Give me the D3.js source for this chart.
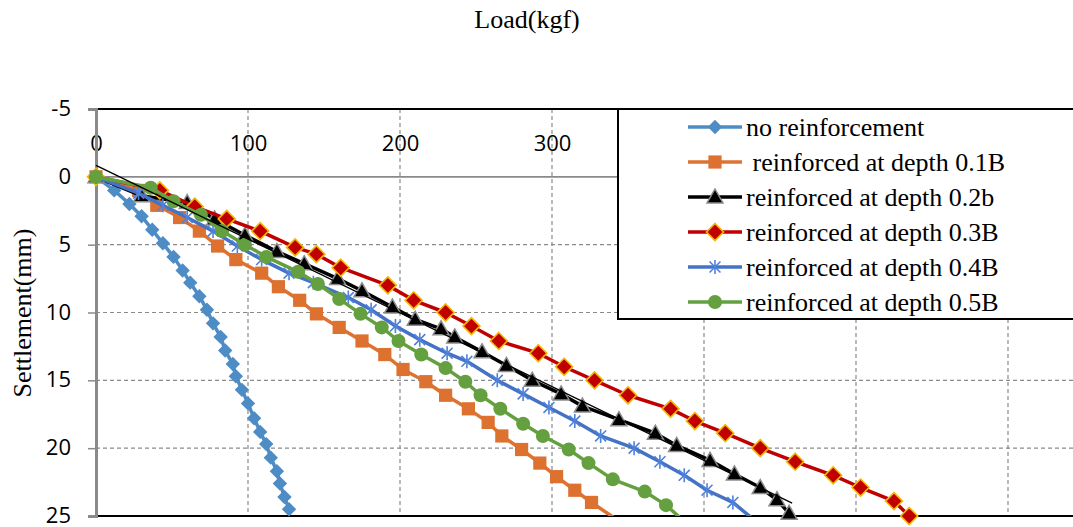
<!DOCTYPE html>
<html>
<head>
<meta charset="utf-8">
<script src="https://cdn.jsdelivr.net/npm/d3@7"></script>
<style>
  html, body { margin: 0; padding: 0; background: #fff; }
  svg { display: block; }
</style>
</head>
<body>
<svg id="chart" width="1073" height="527"></svg>
<script>
// ---------------- DATA ----------------
const seriesNames = [
  "no reinforcement",
  " reinforced at depth 0.1B",
  "reinforced at depth 0.2b",
  "reinforced at depth 0.3B",
  "reinforced at depth 0.4B",
  "reinforced at depth 0.5B"
];

const noReinfLoad   = [0, 12, 22, 30, 37, 44, 51, 57, 62, 68, 73, 77, 82, 85, 90, 92, 96, 100, 104, 108, 112, 115, 119, 121, 124, 127];
const noReinfSettle = [0, 1.0, 2.0, 2.9, 3.9, 4.9, 5.9, 6.9, 7.8, 8.8, 9.8, 10.8, 11.8, 12.8, 13.8, 14.7, 15.7, 16.7, 17.8, 18.8, 19.7, 20.7, 21.7, 22.6, 23.6, 24.5];

const d01Load   = [0, 28, 40, 55, 68, 80, 92, 109, 120, 134, 145, 160, 175, 190, 202, 217, 230, 245, 258, 267, 280, 292, 303, 315, 326, 343];
const d01Settle = [0, 1.0, 2.1, 3.0, 4.0, 5.1, 6.1, 7.1, 8.1, 9.1, 10.1, 11.1, 12.1, 13.1, 14.2, 15.1, 16.1, 17.1, 18.1, 19.1, 20.1, 21.1, 22.1, 23.1, 24.0, 25.3];

const d02Load   = [0, 30, 60, 78, 98, 119, 137, 159, 175, 195, 210, 227, 236, 254, 270, 287, 306, 320, 344, 368, 382, 404, 420, 437, 448, 456];
const d02Settle = [0, 1.4, 1.9, 3.1, 4.3, 5.5, 6.4, 7.5, 8.4, 9.6, 10.5, 11.2, 11.8, 12.9, 13.9, 15.0, 16.0, 16.9, 17.9, 18.9, 19.8, 20.9, 21.9, 22.9, 23.8, 24.8];

const d03Load   = [0, 42, 65, 86, 108, 131, 145, 161, 192, 209, 230, 247, 265, 291, 308, 328, 350, 378, 394, 414, 437, 460, 485, 503, 525, 535];
const d03Settle = [0, 1.0, 2.2, 3.1, 4.0, 5.2, 5.7, 6.7, 8.0, 9.1, 10.0, 11.0, 12.1, 13.0, 14.0, 15.0, 16.1, 17.1, 18.0, 18.9, 20.0, 21.0, 22.0, 22.9, 23.9, 25.0];

const d04Load   = [0, 28, 44, 60, 77, 93, 109, 127, 143, 166, 181, 197, 213, 231, 244, 264, 281, 298, 315, 332, 354, 371, 387, 402, 419, 432];
const d04Settle = [0, 1.2, 2.1, 3.0, 4.0, 5.1, 6.1, 7.1, 7.8, 8.9, 9.8, 11.0, 12.0, 13.0, 13.6, 15.0, 16.0, 17.0, 18.0, 19.1, 20.0, 21.0, 22.0, 23.1, 24.0, 25.2];

const d05Load   = [0, 36, 51, 69, 83, 98, 112, 133, 146, 160, 174, 188, 199, 214, 230, 243, 253, 266, 281, 294, 311, 324, 340, 361, 375, 386];
const d05Settle = [0, 0.8, 1.8, 2.8, 4.0, 5.0, 5.9, 7.0, 7.9, 9.0, 10.1, 11.1, 12.1, 13.1, 14.1, 15.1, 16.1, 17.1, 18.2, 19.1, 20.1, 21.1, 22.3, 23.2, 24.2, 25.3];

// linear trendline of the 0.2b series (two end points)
const trendLoad   = [0, 458];
const trendSettle = [-0.85, 24.05];

const xGridTicks  = [100, 200, 300, 400, 500, 600];
const xLabelTicks = [0, 100, 200, 300];   // 400+ are hidden behind the legend
const yTicks = [-5, 0, 5, 10, 15, 20, 25];
const xDomain = [0, 700];
const yDomain = [-5, 25];

// ---------------- STYLE ----------------
const styles = [
  { line: "#4e8cc6", fill: "#4e8cc6", stroke: "none",    shape: "diamond",  size: 7.2 },
  { line: "#de7230", fill: "#dc7130", stroke: "none",    shape: "square",   size: 6.6 },
  { line: "#000000", fill: "#000000", stroke: "#8c8c8c", shape: "triangle", size: 8 },
  { line: "#c00000", fill: "#c00000", stroke: "#f5b800", shape: "diamond",  size: 8.5 },
  { line: "#4472c4", fill: "none",    stroke: "#4f82da", shape: "star",     size: 7 },
  { line: "#64a040", fill: "#64a040", stroke: "none",    shape: "circle",   size: 7 }
];

const loads = [noReinfLoad, d01Load, d02Load, d03Load, d04Load, d05Load];
const settles = [noReinfSettle, d01Settle, d02Settle, d03Settle, d04Settle, d05Settle];

// ---------------- CHART ----------------
const svg = d3.select("#chart");
const pLeft = 96, pTop = 109, pBottom = 516;
const x = d3.scaleLinear().domain(xDomain).range([pLeft, pLeft + 152 * 7]);
const y = d3.scaleLinear().domain(yDomain).range([pTop, pBottom]);

const gridColor = "#8a8a8a";
const numFmt = d => String(d);

svg.append("defs").append("clipPath").attr("id", "plotclip")
  .append("rect").attr("x", pLeft).attr("y", pTop).attr("width", 1100).attr("height", pBottom - pTop);

// horizontal dashed gridlines
svg.append("g").selectAll("line").data(yTicks.filter(v => v > 0 && v < 25)).join("line")
  .attr("x1", pLeft).attr("x2", 1080)
  .attr("y1", d => y(d)).attr("y2", d => y(d))
  .attr("stroke", gridColor).attr("stroke-width", 1.2).attr("stroke-dasharray", "4,3");

// vertical dashed gridlines
svg.append("g").selectAll("line").data(xGridTicks).join("line")
  .attr("x1", d => x(d)).attr("x2", d => x(d))
  .attr("y1", pTop).attr("y2", pBottom)
  .attr("stroke", gridColor).attr("stroke-width", 1.2).attr("stroke-dasharray", "4,3");

// top & bottom black border
svg.append("line").attr("x1", pLeft - 8).attr("x2", 1080).attr("y1", y(-5)).attr("y2", y(-5))
  .attr("stroke", "#000").attr("stroke-width", 2);
svg.append("line").attr("x1", pLeft).attr("x2", 1080).attr("y1", y(25)).attr("y2", y(25))
  .attr("stroke", "#000").attr("stroke-width", 2.2);

// x axis at settlement 0, labels above
const xAxis = d3.axisTop(x).tickValues(xLabelTicks).tickSize(0).tickPadding(26).tickFormat(numFmt);
const gx = svg.append("g").attr("transform", `translate(0,${y(0)})`).call(xAxis);
gx.select(".domain").attr("stroke", gridColor).attr("stroke-width", 1.6)
  .attr("d", `M${pLeft},0H1080`);
gx.selectAll("text").attr("font-family", "'Open Sans', 'Liberation Sans', sans-serif")
  .attr("font-size", 22).attr("fill", "#000");

// y axis
const yAxis = d3.axisLeft(y).tickValues(yTicks).tickSize(8).tickPadding(17).tickFormat(numFmt);
const gy = svg.append("g").attr("transform", `translate(${pLeft},0)`).call(yAxis);
gy.select(".domain").attr("stroke", gridColor).attr("stroke-width", 3);
gy.selectAll(".tick line").attr("stroke", gridColor).attr("stroke-width", 1.5);
gy.selectAll("text").attr("font-family", "'Open Sans', 'Liberation Sans', sans-serif")
  .attr("font-size", 22).attr("fill", "#000").attr("dy", "0.3em");

// titles
svg.append("text").attr("x", 527).attr("y", 28).attr("text-anchor", "middle")
  .attr("font-family", "'Liberation Serif', 'Times New Roman', serif").attr("font-size", 26)
  .text("Load(kgf)");
svg.append("text").attr("transform", "translate(31,313) rotate(-90)").attr("text-anchor", "middle")
  .attr("font-family", "'Liberation Serif', 'Times New Roman', serif").attr("font-size", 26)
  .text("Settlement(mm)");

// marker drawing
function drawMarker(g, st, cx, cy) {
  const s = st.size;
  if (st.shape === "diamond") {
    g.append("path").attr("d", `M${cx},${cy - s}L${cx + s},${cy}L${cx},${cy + s}L${cx - s},${cy}Z`)
      .attr("fill", st.fill).attr("stroke", st.stroke).attr("stroke-width", 1.6);
  } else if (st.shape === "square") {
    g.append("rect").attr("x", cx - s).attr("y", cy - s).attr("width", 2 * s).attr("height", 2 * s)
      .attr("fill", st.fill);
  } else if (st.shape === "triangle") {
    g.append("path").attr("d", `M${cx},${cy - s}L${cx + s},${cy + s * 0.75}L${cx - s},${cy + s * 0.75}Z`)
      .attr("fill", st.fill).attr("stroke", st.stroke).attr("stroke-width", 1.5);
  } else if (st.shape === "circle") {
    g.append("circle").attr("cx", cx).attr("cy", cy).attr("r", s).attr("fill", st.fill);
  } else if (st.shape === "star") {
    const d = s * 0.78;
    g.append("path").attr("d",
      `M${cx},${cy - s}L${cx},${cy + s}M${cx - d},${cy - d}L${cx + d},${cy + d}M${cx - d},${cy + d}L${cx + d},${cy - d}`)
      .attr("stroke", st.stroke).attr("stroke-width", 1.6).attr("fill", "none");
  }
}

const line = d3.line().x(d => x(d[0])).y(d => y(d[1]));
const plotG = svg.append("g");

loads.forEach((ld, i) => {
  const pts = ld.map((v, j) => [v, settles[i][j]]);
  const st = styles[i];
  const g = plotG.append("g");
  g.append("path").datum(pts).attr("d", line)
    .attr("clip-path", "url(#plotclip)")
    .attr("fill", "none").attr("stroke", st.line).attr("stroke-width", 3.5)
    .attr("stroke-linejoin", "round");
  pts.filter(p => p[1] <= 25.05).forEach(p => drawMarker(g, st, x(p[0]), y(p[1])));
});

// trendline
svg.append("path").datum(trendLoad.map((v, j) => [v, trendSettle[j]])).attr("d", line)
  .attr("fill", "none").attr("stroke", "#000").attr("stroke-width", 1.3);

// legend
const lg = svg.append("g");
lg.append("rect").attr("x", 618).attr("y", 109).attr("width", 470).attr("height", 210)
  .attr("fill", "#fff").attr("stroke", "#000").attr("stroke-width", 2);
seriesNames.forEach((name, i) => {
  const cy = 127 + i * 35;
  const st = styles[i];
  lg.append("line").attr("x1", 688).attr("x2", 742).attr("y1", cy).attr("y2", cy)
    .attr("stroke", st.line).attr("stroke-width", 3.5);
  drawMarker(lg, st, 715, cy);
  lg.append("text").attr("x", 746).attr("y", cy + 9).attr("xml:space", "preserve")
    .style("white-space", "pre")
    .attr("font-family", "'Liberation Serif', 'Times New Roman', serif").attr("font-size", 26)
    .text(name);
});
</script>
</body>
</html>
